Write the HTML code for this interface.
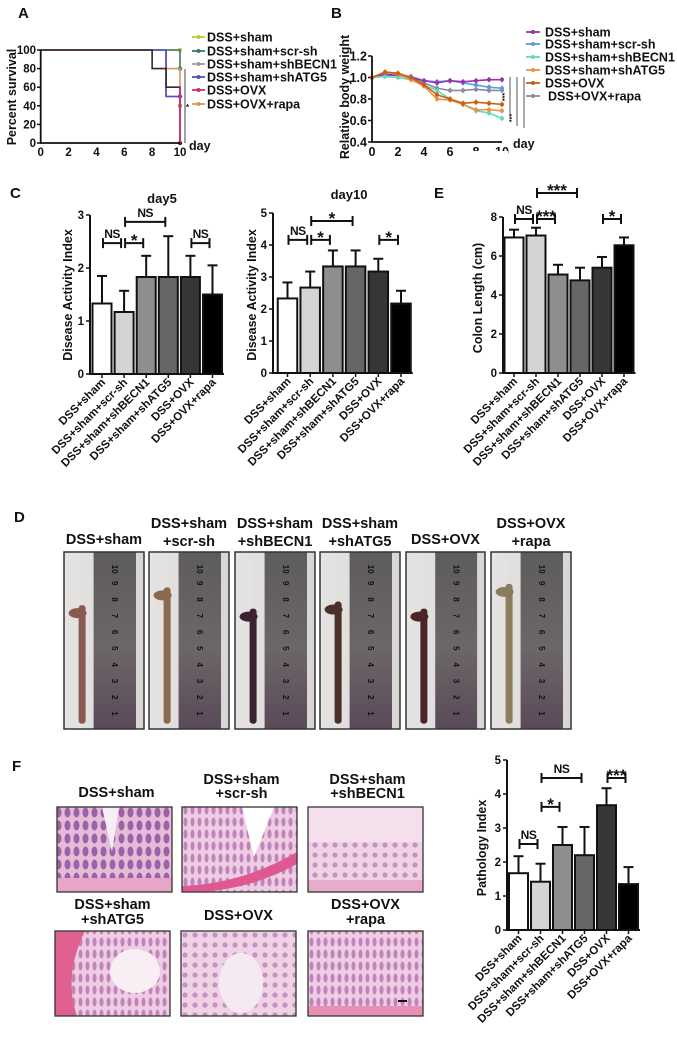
<!DOCTYPE html>
<html><head><meta charset="utf-8"><title>Figure</title>
<style>
html,body{margin:0;padding:0;background:#fff;}
svg{display:block;font-family:"Liberation Sans",Arial,sans-serif;}
text{font-weight:bold;fill:#111;}
</style></head>
<body>
<svg id="fig" width="677" height="1052" viewBox="0 0 677 1052" xmlns="http://www.w3.org/2000/svg">
<defs>
<pattern id="cryptA" width="9" height="13" patternUnits="userSpaceOnUse"><rect width="9" height="13" fill="#e4bcd8"/><ellipse cx="4.5" cy="6.5" rx="3" ry="5" fill="#8a4a9a" opacity="0.8"/></pattern>
<pattern id="cryptB" width="7" height="12" patternUnits="userSpaceOnUse"><rect width="7" height="12" fill="#eecce2"/><ellipse cx="3.5" cy="6" rx="2" ry="4.5" fill="#b06aae" opacity="0.75"/></pattern>
<pattern id="cryptC" width="10" height="10" patternUnits="userSpaceOnUse"><rect width="10" height="10" fill="#efd2e4"/><circle cx="5" cy="5" r="2.6" fill="#a866aa" opacity="0.6"/></pattern>
<linearGradient id="ruler" x1="0" y1="0" x2="0" y2="1"><stop offset="0" stop-color="#5e5c5c"/><stop offset="0.55" stop-color="#6c6668"/><stop offset="1" stop-color="#5a4a58"/></linearGradient>
<linearGradient id="bg" x1="0" y1="0" x2="1" y2="0"><stop offset="0" stop-color="#e6e4e2"/><stop offset="1" stop-color="#d8d6d4"/></linearGradient>
</defs>
</svg>
<script>
// ---------- DATA ----------
const groups = ["DSS+sham","DSS+sham+scr-sh","DSS+sham+shBECN1","DSS+sham+shATG5","DSS+OVX","DSS+OVX+rapa"];
// Panel A survival (step times / values)
const survShamT = [0,10];   const survShamV = [100,100];
const survScrT  = [0,10];   const survScrV  = [100,80];
const survBecnT = [0,9,10]; const survBecnV = [100,50,40];
const survAtgT  = [0,9,10]; const survAtgV  = [100,50,50];
const survOvxT  = [0,8,9,10]; const survOvxV = [100,80,60,0];
const survRapaT = [0,9,10]; const survRapaV = [100,80,40];
const survXTicks = [0,2,4,6,8,10];
const survYTicks = [0,20,40,60,80,100];
// Panel B body weight
const days = [0,1,2,3,4,5,6,7,8,9,10];
const bwSham = [1.0,1.03,1.02,1.0,0.97,0.95,0.97,0.96,0.97,0.98,0.98];
const bwScr  = [1.0,1.02,1.02,1.01,0.97,0.96,0.97,0.95,0.93,0.91,0.90];
const bwBecn = [1.0,1.01,1.0,0.98,0.93,0.88,0.80,0.75,0.69,0.67,0.62];
const bwAtg  = [1.0,1.05,1.03,0.98,0.92,0.80,0.79,0.75,0.70,0.70,0.69];
const bwOvx  = [1.0,1.05,1.04,1.0,0.93,0.84,0.80,0.76,0.77,0.76,0.75];
const bwRapa = [1.0,1.02,1.02,1.0,0.95,0.90,0.88,0.88,0.89,0.88,0.88];
const bwXTicks = [0,2,4,6,8,10];
const bwYTicks = [0.4,0.6,0.8,1.0,1.2];
// Panel C / E / F bars
const day5Values = [1.33,1.17,1.83,1.83,1.83,1.5];
const day5Err    = [0.52,0.40,0.40,0.77,0.40,0.55];
const day5Ticks  = [0,1,2,3];
const day10Values = [2.33,2.67,3.33,3.33,3.17,2.17];
const day10Err    = [0.50,0.50,0.50,0.50,0.40,0.40];
const day10Ticks  = [0,1,2,3,4,5];
const colonValues = [6.95,7.05,5.05,4.75,5.4,6.55];
const colonErr    = [0.40,0.40,0.50,0.65,0.55,0.40];
const colonTicks  = [0,2,4,6,8];
const pathValues = [1.67,1.42,2.5,2.2,3.67,1.35];
const pathErr    = [0.50,0.53,0.53,0.83,0.50,0.50];
const pathTicks  = [0,1,2,3,4,5];

// ---------- HELPERS ----------
const NS='http://www.w3.org/2000/svg';
const svg=document.getElementById('fig');
function el(tag,attrs,parent){const e=document.createElementNS(NS,tag);for(const k in attrs)e.setAttribute(k,attrs[k]);(parent||svg).appendChild(e);return e;}
function txt(str,attrs,parent){const t=el('text',attrs,parent);t.textContent=str;return t;}

// panel letters
[["A",18,18],["B",331,18],["C",10,198],["E",434,198],["D",14,522],["F",12,771]].forEach(p=>{
  const t=txt(p[0],{x:p[1],y:p[2],'font-size':15});
  
  
});

// ---------- PANEL A ----------
(function(){
  const g=el('g',{});
  
  
  const X=d=>40.7+d*13.93, Y=v=>143-v*0.93;
  survYTicks.forEach(v=>{
    const l=el('line',{x1:37,x2:40.7,y1:Y(v),y2:Y(v),stroke:'#111','stroke-width':1.5},g);
    
    
    const t=txt(String(v),{x:36,y:Y(v)+4,'font-size':11.5,'text-anchor':'end'},g);
    
    
  });
  survXTicks.forEach(v=>{
    const t=txt(String(v),{x:X(v),y:156,'font-size':11.5,'text-anchor':'middle'},g);
    
    
  });
  const series=[[survShamT,survShamV,'#c4c83c'],[survScrT,survScrV,'#3a7a5a'],[survRapaT,survRapaV,'#d89a50'],[survBecnT,survBecnV,'#9a9a9a'],[survAtgT,survAtgV,'#5050c0'],[survOvxT,survOvxV,'#3a2630']];
  series.forEach((s,si)=>{
    const T=s[0],V=s[1];let d='M'+X(0)+' '+Y(V[0]);
    for(let i=1;i<T.length;i++){d+=' H'+X(T[i])+' V'+Y(V[i]);}
    const p=el('path',{d:d,fill:'none',stroke:s[2],'stroke-width':1.6},g);
    
    
    const m=el('circle',{cx:X(T[T.length-1]),cy:Y(V[V.length-1]),r:2.2,fill:s[2]},g);
    
    
  });
  const n=survOvxT.length;
  const dr=el('line',{x1:X(survOvxT[n-1]),x2:X(survOvxT[n-1]),y1:Y(survOvxV[n-2]),y2:Y(survOvxV[n-1]),stroke:'#d03070','stroke-width':1.8},g);
  
  
  const ax=el('path',{d:'M40.7 50 V143 H180',fill:'none',stroke:'#111','stroke-width':1.8},g);
  
  
  const sg=el('line',{x1:185,x2:185,y1:69,y2:143,stroke:'#444','stroke-width':1},g);
  
  
  const st=txt('*',{x:186,y:110,'font-size':8},g);
  
  
  const dy=txt('day',{x:189,y:150,'font-size':12.5},g);
  
  
  const yt=txt('Percent survival',{x:0,y:0,'font-size':12.5,'text-anchor':'middle',transform:'translate(16,97) rotate(-90)'},g);
  
  
  const cols=['#c4c83c','#3a7a5a','#9a9a9a','#5050c0','#d03070','#d89a50'];
  const rows=[37,51,64,77,90,104];
  groups.forEach((gname,i)=>{
    const l=el('line',{x1:192,x2:205,y1:rows[i],y2:rows[i],stroke:cols[i],'stroke-width':1.8},g);
    
    
    const c=el('circle',{cx:198.5,cy:rows[i],r:2,fill:cols[i]},g);
    
    
    const t=txt(gname,{x:207,y:rows[i]+4.5,'font-size':12.5},g);
    
    
  });
})();

// ---------- PANEL B ----------
(function(){
  const g=el('g',{});
  
  
  const X=d=>372+d*13, Y=v=>142-(v-0.4)*107.5;
  bwYTicks.forEach(v=>{
    const l=el('line',{x1:368,x2:372,y1:Y(v),y2:Y(v),stroke:'#111','stroke-width':1.5},g);
    
    
    const t=txt(v.toFixed(1),{x:367,y:Y(v)+4.5,'font-size':12.5,'text-anchor':'end'},g);
    
    
  });
  bwXTicks.forEach(v=>{
    const t=txt(String(v),{x:X(v),y:156,'font-size':12.5,'text-anchor':'middle'},g);
    
    
  });
  const cover=el('rect',{x:466,y:151,width:42,height:8,fill:'#fff'},g);
  
  
  const series=[[bwRapa,'#8a8c9a'],[bwScr,'#5a9ae0'],[bwSham,'#9b30b0'],[bwBecn,'#60d8c0'],[bwAtg,'#f09040'],[bwOvx,'#c86010']];
  series.forEach(s=>{
    const d=days.map((dd,i)=>(i?'L':'M')+X(dd)+' '+Y(s[0][i])).join(' ');
    const p=el('path',{d:d,fill:'none',stroke:s[1],'stroke-width':1.6},g);
    
    
    days.forEach((dd,i)=>{
      const e=el('line',{x1:X(dd),x2:X(dd),y1:Y(s[0][i]+0.025),y2:Y(s[0][i]-0.025),stroke:s[1],'stroke-width':1.2},g);
      
      
      const c=el('circle',{cx:X(dd),cy:Y(s[0][i]),r:2,fill:s[1]},g);
      
      
    });
  });
  const ax=el('path',{d:'M372 56 V142 H502',fill:'none',stroke:'#111','stroke-width':1.8},g);
  
  
  [[510,77,116],[517,77,126],[524,77,128]].forEach(s=>{
    const l=el('line',{x1:s[0],x2:s[0],y1:s[1],y2:s[2],stroke:'#555','stroke-width':1},g);
    
    
  });
  [[507,97],[514,118]].forEach(s=>{
    const t=txt('***',{x:0,y:0,'font-size':7,transform:'translate('+s[0]+','+s[1]+') rotate(-90)','text-anchor':'middle'},g);
    
    
  });
  const dy=txt('day',{x:513,y:148,'font-size':12.5},g);
  
  
  const yt=txt('Relative body weight',{x:0,y:0,'font-size':12.5,'text-anchor':'middle',transform:'translate(349,97) rotate(-90)'},g);
  
  
  const cols=['#9b30b0','#5a9ae0','#60d8c0','#f09040','#c86010','#8a8c9a'];
  const rows=[32,44,57,70,83,96];
  groups.forEach((gname,i)=>{
    const l=el('line',{x1:526,x2:540,y1:rows[i],y2:rows[i],stroke:cols[i],'stroke-width':1.8},g);
    
    
    const c=el('circle',{cx:533,cy:rows[i],r:2,fill:cols[i]},g);
    
    
    const t=txt(gname,{x:i==5?548:545,y:rows[i]+4.5,'font-size':12.5},g);
    
    
  });
})();

// ---------- BAR CHARTS ----------
const fills=['#ffffff','#d4d4d4','#8e8e8e','#666666','#363636','#000000'];
function barChart(cfg){
  const g=el('g',{});
  
  
  const Y=v=>cfg.y0-v*cfg.ppu, C=i=>cfg.c0+i*cfg.slot;
  const top=Y(cfg.ticks[cfg.ticks.length-1]);
  cfg.values.forEach((v,i)=>{
    const e=el('line',{x1:C(i),x2:C(i),y1:Y(v),y2:Y(v+cfg.errs[i]),stroke:'#111','stroke-width':2},g);
    
    
    const cap=el('line',{x1:C(i)-5,x2:C(i)+5,y1:Y(v+cfg.errs[i]),y2:Y(v+cfg.errs[i]),stroke:'#111','stroke-width':2},g);
    
    
    const r=el('rect',{x:C(i)-cfg.w/2,y:Y(v),width:cfg.w,height:v*cfg.ppu,fill:fills[i],stroke:'#111','stroke-width':2},g);
    
    
    const tk=el('line',{x1:C(i),x2:C(i),y1:cfg.y0,y2:cfg.y0+4,stroke:'#111','stroke-width':1.5},g);
    
    
    const t=txt(groups[i],{x:0,y:0,'font-size':11.5,'text-anchor':'end',transform:'translate('+(C(i)+4)+','+(cfg.y0+9)+') rotate(-45)'},g);
    
    
  });
  const ax=el('path',{d:'M'+cfg.ax+' '+top+' V'+cfg.y0+' H'+(C(5)+cfg.w/2+2),fill:'none',stroke:'#111','stroke-width':2},g);
  
  
  cfg.ticks.forEach(v=>{
    const l=el('line',{x1:cfg.ax-4,x2:cfg.ax,y1:Y(v),y2:Y(v),stroke:'#111','stroke-width':1.5},g);
    
    
    const t=txt(String(v),{x:cfg.ax-6,y:Y(v)+4,'font-size':11.5,'text-anchor':'end'},g);
    
    
  });
  cfg.sig.forEach(s=>{
    const y=Y(s[2]),x1=C(s[0])+1,x2=C(s[1])-3;
    const p=el('path',{d:'M'+x1+' '+(y-5)+' V'+(y+5)+' M'+x1+' '+y+' H'+x2+' M'+x2+' '+(y-5)+' V'+(y+5),fill:'none',stroke:'#111','stroke-width':2},g);
    
    
    const isNS=s[3]=='NS';
    const t=txt(s[3],{x:(x1+x2)/2,y:isNS?y-5:y+3,'font-size':isNS?12:17,'font-weight':isNS?'normal':'bold','text-anchor':'middle','letter-spacing':isNS?'-0.5':'0'},g);
    
    
  });
  const yt=txt(cfg.ytitle,{x:0,y:0,'font-size':12.5,'text-anchor':'middle',transform:'translate('+cfg.tx+','+cfg.ty+') rotate(-90)'},g);
  
  
  if(cfg.title){
    const tt=txt(cfg.title[0],{x:cfg.title[1],y:cfg.title[2],'font-size':13,'text-anchor':'middle'},g);
    
    
  }
}
barChart({name:'day5-dai-chart',ax:90,y0:374,ppu:53,c0:102,slot:22.1,w:19,values:day5Values,errs:day5Err,ticks:day5Ticks,
  sig:[[0,1,2.47,'NS'],[1,2,2.47,'*'],[1,3,2.87,'NS'],[4,5,2.47,'NS']],ytitle:'Disease Activity Index',tx:72,ty:295,title:['day5',162,203]});
barChart({name:'day10-dai-chart',ax:273,y0:373,ppu:32,c0:287.5,slot:22.7,w:19.5,values:day10Values,errs:day10Err,ticks:day10Ticks,
  sig:[[0,1,4.16,'NS'],[1,2,4.16,'*'],[1,3,4.75,'*'],[4,5,4.16,'*']],ytitle:'Disease Activity Index',tx:256,ty:295,title:['day10',349,199]});
barChart({name:'colon-length-chart',ax:503,y0:373,ppu:19.5,c0:514,slot:22,w:19,values:colonValues,errs:colonErr,ticks:colonTicks,
  sig:[[0,1,7.9,'NS'],[1,2,7.9,'***'],[1,3,9.23,'***'],[4,5,7.9,'*']],ytitle:'Colon Length (cm)',tx:482,ty:298});
barChart({name:'pathology-chart',ax:507,y0:930,ppu:34,c0:518.5,slot:22,w:19,values:pathValues,errs:pathErr,ticks:pathTicks,
  sig:[[0,1,2.53,'NS'],[1,2,3.62,'*'],[1,3,4.47,'NS'],[4,5,4.47,'***']],ytitle:'Pathology Index',tx:486,ty:848});

// ---------- PANEL D photos ----------
(function(){
  const boxes=[[64,144],[149,229],[235,315],[320,400],[406,485],[491,571]];
  const labels=[["DSS+sham"],["DSS+sham","+scr-sh"],["DSS+sham","+shBECN1"],["DSS+sham","+shATG5"],["DSS+OVX"],["DSS+OVX","+rapa"]];
  const colon=['#8a5a50','#8a6a4e','#3a2232','#4a3028','#4a2426','#8a7c5c'];
  const topY=[0.3,0.2,0.32,0.28,0.32,0.18];
  boxes.forEach((b,i)=>{
    const w=b[1]-b[0],h=177,y=552,cx=(b[0]+b[1])/2;
    const g=el('g',{});
    
    
    el('rect',{x:b[0],y:y,width:w,height:h,fill:'url(#bg)'},g);
    el('rect',{x:b[0]+w*0.37,y:y,width:w*0.53,height:h,fill:'url(#ruler)'},g);
    for(let k=1;k<=10;k++){
      const ty=y+h*0.9-(k-1)*h*0.092;
      const rt=txt(String(k),{x:0,y:0,'font-size':8,'font-weight':'normal',fill:'#1a1a1a',transform:'translate('+(b[0]+w*0.6)+','+ty+') rotate(90)'},g);
      
      
    }
    const cx0=b[0]+w*0.22;
    el('rect',{x:cx0-3,y:y+h*topY[i],width:7,height:h*(0.97-topY[i]),rx:3,fill:colon[i]},g);
    el('ellipse',{cx:cx0-4,cy:y+h*topY[i]+8,rx:9,ry:5,fill:colon[i]},g);
    el('rect',{x:b[0],y:y,width:w,height:h,fill:'none',stroke:'#333','stroke-width':1.5},g);
    const L=labels[i];
    L.forEach((s,k)=>{
      const yy=L.length==1?544:(k==0?528:546);
      const t=txt(s,{x:cx,y:yy,'font-size':14.5,'text-anchor':'middle'});
      
      
    });
  });
})();

// ---------- PANEL F histology ----------
(function(){
  const imgs=[[57,807,'cryptA',0],[182,807,'cryptB',1],[308,807,'cryptC',2],[55,931,'cryptB',3],[181,931,'cryptC',4],[308,931,'cryptB',5]];
  const labels=[["DSS+sham"],["DSS+sham","+scr-sh"],["DSS+sham","+shBECN1"],["DSS+sham","+shATG5"],["DSS+OVX"],["DSS+OVX","+rapa"]];
  imgs.forEach((m,i)=>{
    const x=m[0],y=m[1],w=115,h=85;
    const g=el('g',{});
    
    
    el('rect',{x:x,y:y,width:w,height:h,fill:'url(#'+m[2]+')'},g);
    if(i==0){el('rect',{x:x,y:y+h-14,width:w,height:14,fill:'#e6a6c8'},g);el('path',{d:'M'+(x+45)+' '+y+' L'+(x+55)+' '+(y+45)+' L'+(x+62)+' '+y+'Z',fill:'#f6eef4'},g);}
    if(i==1){el('path',{d:'M'+(x+60)+' '+y+' L'+(x+72)+' '+(y+50)+' L'+(x+92)+' '+y+'Z',fill:'#fff'},g);el('path',{d:'M'+x+' '+(y+h-6)+' Q'+(x+60)+' '+(y+h-8)+' '+(x+w)+' '+(y+h-40)+' L'+(x+w)+' '+(y+h-28)+' Q'+(x+60)+' '+(y+h+2)+' '+x+' '+(y+h)+'Z',fill:'#e05890'},g);}
    if(i==2){el('rect',{x:x,y:y,width:w,height:35,fill:'#f3e0ec'},g);el('rect',{x:x,y:y+h-12,width:w,height:12,fill:'#e6acca'},g);}
    if(i==3){el('path',{d:'M'+x+' '+y+' L'+(x+30)+' '+y+' Q'+(x+8)+' '+(y+45)+' '+(x+22)+' '+(y+h)+' L'+x+' '+(y+h)+'Z',fill:'#e06090'},g);el('ellipse',{cx:x+80,cy:y+40,rx:25,ry:22,fill:'#f8eef4'},g);}
    if(i==4){el('ellipse',{cx:x+60,cy:y+52,rx:22,ry:30,fill:'#f6eaf2'},g);}
    if(i==5){el('rect',{x:x,y:y+h-10,width:w,height:10,fill:'#e890b4'},g);el('rect',{x:x+90,y:y+h-16,width:9,height:2,fill:'#111'},g);}
    el('rect',{x:x,y:y,width:w,height:h,fill:'none',stroke:'#333','stroke-width':1.3},g);
    const L=labels[i], cx=x+w/2+(i<3?2:0);
    L.forEach((s,k)=>{
      const base=i<3?[797,784,798]:[920,909,924];
      const yy=L.length==1?base[0]:(k==0?base[1]:base[2]);
      const t=txt(s,{x:cx,y:yy,'font-size':14.5,'text-anchor':'middle'});
      
      
    });
  });
})();
</script>
</body></html>
